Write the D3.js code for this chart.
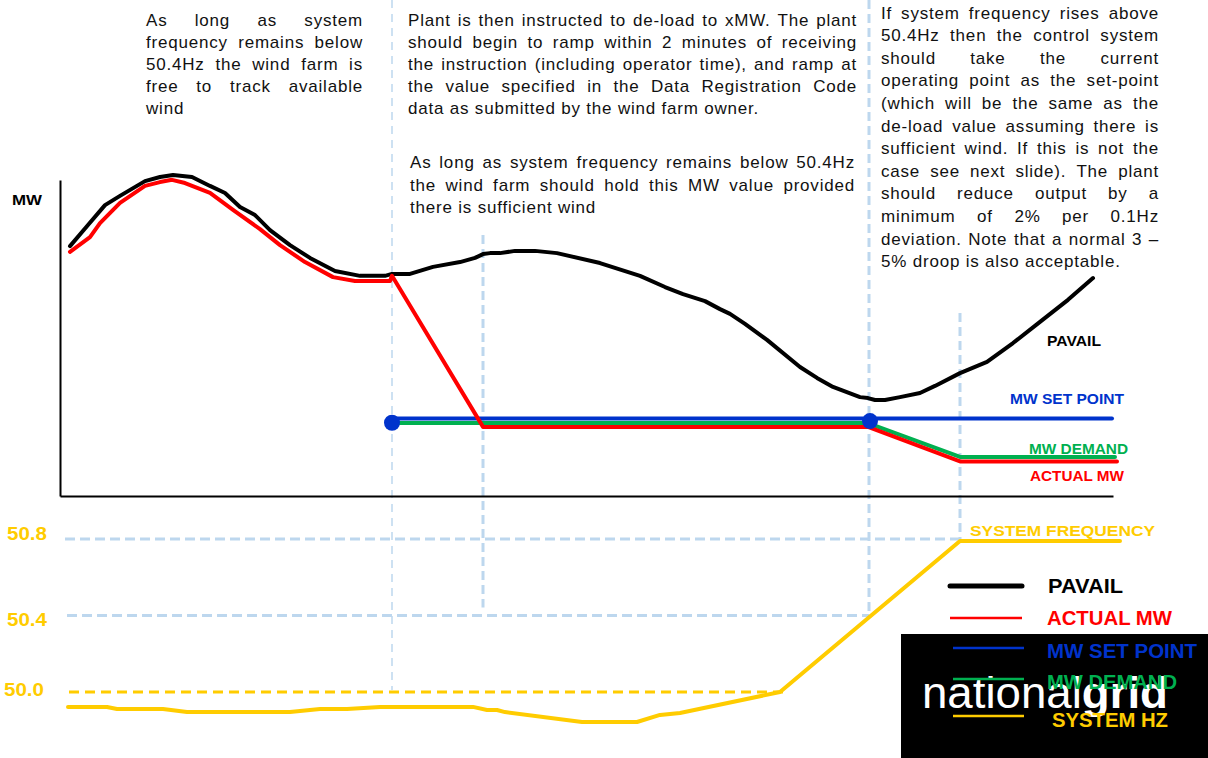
<!DOCTYPE html>
<html><head><meta charset="utf-8">
<script src="https://cdn.jsdelivr.net/npm/d3@7"></script>
<style>
html,body{margin:0;padding:0;background:#fff;}
svg{display:block;font-family:"Liberation Sans",Arial,sans-serif;}
</style></head><body>
<svg id="chart" width="1208" height="758"></svg>
<script>
// ---------- DATA ----------
// time axis (arbitrary minutes), MW axis (arbitrary MW)
const pavailT  = [1.0,2.8,4.5,6.0,8.5,10.0,11.3,13.2,15.0,16.5,18.0,19.5,21.0,23.0,25.0,27.5,30.0,32.5,33.2,35.0,37.3,40.0,41.5,42.3,43.0,44.0,45.5,47.5,49.7,54.0,58.0,60.5,62.3,64.5,66.0,67.0,68.5,70.7,74.0,75.7,77.3,80.0,80.8,81.5,82.5,84.0,86.0,87.5,90.0,92.7,95.3,98.0,100.8,103.3];
const pavailMW = [78.1,84.7,90.9,93.8,98.4,99.7,100.3,99.7,96.9,94.7,90.3,87.8,83.1,78.4,74.4,70.3,68.8,68.8,69.4,69.4,71.6,73.1,74.4,75.6,75.9,75.9,76.6,76.6,75.9,72.8,68.8,65.3,63.1,60.9,58.4,56.9,53.8,48.8,40.3,36.9,34.1,30.9,30.6,30.0,30.0,30.9,32.2,34.4,38.4,41.9,47.8,54.4,61.3,68.1];

const actualT  = [1.0,3.0,4.0,6.0,8.5,10.0,11.2,12.5,15.0,17.3,20.0,22.0,24.5,27.3,29.5,33.0,33.2,42.3,80.8,90.0,105.7];
const actualMW = [76.3,80.9,85.3,91.6,96.9,98.1,98.8,97.8,94.7,89.4,83.4,78.4,73.1,68.4,67.2,67.2,68.8,21.6,21.6,10.8,10.8];

const demandT  = [33.2,80.8,90.0,105.5];
const demandMW = [22.8,22.8,12.2,12.2];

const setpointT  = [33.2,105.2];
const setpointMW = [24.2,24.2];

const markerT  = [33.2,81.0];
const markerMW = [22.9,23.4];

const freqT  = [0.8,4.7,5.7,10.3,12.7,23.0,26.0,28.7,32.0,41.3,42.7,43.7,44.5,52.2,57.7,60.0,62.0,72.0,90.0,106.0];
const freqHz = [49.922,49.922,49.911,49.911,49.895,49.895,49.911,49.911,49.922,49.922,49.906,49.906,49.895,49.843,49.843,49.880,49.890,50.0,50.79,50.79];

const freqTicks = [50.0,50.4,50.8];
const eventT = [33.2,42.3,80.9,90.0];

const seriesLabels = ["PAVAIL","MW SET POINT","MW DEMAND","ACTUAL MW","SYSTEM FREQUENCY"];
const legendLabels = ["PAVAIL","ACTUAL MW","MW SET POINT","MW DEMAND","SYSTEM HZ"];

const textLeft = ["As long as system","frequency remains below","50.4Hz the wind farm is","free to track available","wind"];
const textMid1 = ["Plant is then instructed to de-load to xMW. The plant","should begin to ramp within 2 minutes of receiving","the instruction (including operator time), and ramp at","the value specified in the Data Registration Code","data as submitted by the wind farm owner."];
const textMid2 = ["As long as system frequency remains below 50.4Hz","the wind farm should hold this MW value provided","there is sufficient wind"];
const textRight = ["If system frequency rises above","50.4Hz then the control system","should take the current","operating point as the set-point","(which will be the same as the","de-load value assuming there is","sufficient wind. If this is not the","case see next slide). The plant","should reduce output by a","minimum of 2% per 0.1Hz","deviation. Note that a normal 3 \u2013","5% droop is also acceptable."];

// ---------- STYLE ----------
const C = {black:"#000000", red:"#ff0000", blue:"#0033cc", green:"#00b050", yellow:"#ffcc00", guide:"#bdd7ee"};

const svg = d3.select("#chart");
const x = d3.scaleLinear().domain([0,105.3]).range([60,1113]);
const y = d3.scaleLinear().domain([0,98.75]).range([496,180]);
const f = d3.scaleLinear().domain([50,50.8]).range([692,539]);

const zip = (a,b)=>a.map((v,i)=>[v,b[i]]);
const lineMW = d3.line().x(d=>x(d[0])).y(d=>y(d[1]));
const lineF  = d3.line().x(d=>x(d[0])).y(d=>f(d[1]));

// ---------- GUIDES ----------
const g = svg.append("g");
const vTop = [0,235,0,313];
const vBot = [f(50.0)-2, f(50.4)-8, f(50.4), f(50.8)+3];
eventT.forEach((t,i)=>{
  g.append("line").attr("x1",x(t)).attr("x2",x(t)).attr("y1",vTop[i]).attr("y2",vBot[i])
   .attr("stroke",C.guide).attr("stroke-width", i===0?1.5:3).attr("stroke-dasharray", i===0?"8,6":"9,5");
});
g.append("line").attr("x1",65).attr("x2",x(eventT[3])).attr("y1",f(50.8)).attr("y2",f(50.8))
 .attr("stroke",C.guide).attr("stroke-width",3).attr("stroke-dasharray","10,5");
g.append("line").attr("x1",67).attr("x2",x(eventT[2])).attr("y1",f(50.4)).attr("y2",f(50.4))
 .attr("stroke",C.guide).attr("stroke-width",3).attr("stroke-dasharray","10,5");
g.append("line").attr("x1",69).attr("x2",x(freqT[17])+5).attr("y1",f(50.0)).attr("y2",f(50.0))
 .attr("stroke",C.yellow).attr("stroke-width",3).attr("stroke-dasharray","10,6");

// ---------- AXES ----------
const ax = svg.append("g").attr("transform",`translate(0,${y(0)})`)
  .call(d3.axisBottom(x).tickValues([]).tickSizeOuter(0));
ax.select(".domain").attr("stroke","#000").attr("stroke-width",2);
const ay = svg.append("g").attr("transform",`translate(${x(0)},0)`)
  .call(d3.axisLeft(y).tickValues([]).tickSizeOuter(0));
ay.select(".domain").attr("stroke","#000").attr("stroke-width",2);
svg.append("text").attr("x",12).attr("y",205).text("MW")
  .attr("font-weight","bold").attr("font-size",15).attr("textLength",30).attr("lengthAdjust","spacingAndGlyphs");

svg.selectAll(".ftick").data(freqTicks).join("text").attr("class","ftick")
  .attr("x",d=>d===50.0?4:7).attr("y",d=>f(d)+ (d===50.8?1:d===50.4?10:4))
  .text(d3.format(".1f")).attr("fill",C.yellow).attr("font-weight","bold").attr("font-size",19)
  .attr("textLength",40).attr("lengthAdjust","spacingAndGlyphs");

// ---------- SERIES ----------
const common = p=>p.attr("fill","none").attr("stroke-linejoin","round").attr("stroke-linecap","round");
svg.append("path").datum(zip(freqT,freqHz)).attr("d",lineF).call(common).attr("stroke",C.yellow).attr("stroke-width",4);
svg.append("path").datum(zip(pavailT,pavailMW)).attr("d",lineMW).call(common).attr("stroke",C.black).attr("stroke-width",4);
svg.append("path").datum(zip(setpointT,setpointMW)).attr("d",lineMW).call(common).attr("stroke",C.blue).attr("stroke-width",4);
svg.append("path").datum(zip(demandT,demandMW)).attr("d",lineMW).call(common).attr("stroke",C.green).attr("stroke-width",4);
svg.append("path").datum(zip(actualT,actualMW)).attr("d",lineMW).call(common).attr("stroke",C.red).attr("stroke-width",4);
svg.selectAll(".mk").data(zip(markerT,markerMW)).join("circle").attr("class","mk")
  .attr("cx",d=>x(d[0])).attr("cy",d=>y(d[1])).attr("r",8).attr("fill",C.blue);

const sl = [
  {t:seriesLabels[0], x1:1047, x2:1101, yc:y(pavailMW[53])+62, c:C.black},
  {t:seriesLabels[1], x1:1010, x2:1124, yc:y(setpointMW[0])-20, c:C.blue},
  {t:seriesLabels[2], x1:1029, x2:1128, yc:y(demandMW[3])-8, c:C.green},
  {t:seriesLabels[3], x1:1030, x2:1124, yc:y(actualMW[20])+14, c:C.red},
  {t:seriesLabels[4], x1:970, x2:1155, yc:f(50.79)-10, c:C.yellow}
];
sl.forEach(d=>{
  svg.append("text").attr("x",d.x1).attr("y",d.yc+5.5).text(d.t).attr("fill",d.c)
    .attr("font-weight","bold").attr("font-size",15)
    .attr("textLength",d.x2-d.x1).attr("lengthAdjust","spacingAndGlyphs");
});

// ---------- LEGEND / LOGO ----------
svg.append("rect").attr("x",901).attr("y",634).attr("width",307).attr("height",124).attr("fill","#000");
const logo = svg.append("text").attr("x",922).attr("y",708).attr("fill","#fff").attr("font-size",45)
  .attr("textLength",246).attr("lengthAdjust","spacingAndGlyphs");
logo.append("tspan").text("national");
logo.append("tspan").text("grid").attr("font-weight","bold");

const legColors = [C.black,C.red,C.blue,C.green,C.yellow];
const legY = [586,618,648,679,716];
const legTY = [585,617,650,681,719];
const legX1 = [1048,1047,1047,1047,1052];
const legX2 = [1123,1172,1197,1177,1168];
const legW = [5,2.5,2.5,2.5,2.5];
legendLabels.forEach((lab,i)=>{
  svg.append("line").attr("x1",i<2?950:953).attr("x2",i<2?1022:1024)
    .attr("y1",legY[i]).attr("y2",legY[i]).attr("stroke",legColors[i]).attr("stroke-width",legW[i])
    .attr("stroke-linecap",i===0?"round":"butt");
  svg.append("text").attr("x",legX1[i]).attr("y",legTY[i]+7.5).text(lab).attr("fill",legColors[i])
    .attr("font-weight","bold").attr("font-size",20)
    .attr("textLength",legX2[i]-legX1[i]).attr("lengthAdjust","spacingAndGlyphs");
});

// ---------- TEXT BLOCKS ----------
function block(lines, x0, x1, y0, lh){
  lines.forEach((line,i)=>{
    const yy = y0 + i*lh;
    const words = line.split(" ");
    const last = i===lines.length-1;
    const grp = svg.append("g");
    const ts = words.map(w=>grp.append("text").attr("y",yy).attr("font-size",17).attr("letter-spacing",0.8).attr("fill","#111").text(w));
    const ws = ts.map(t=>t.node().getComputedTextLength());
    const spaceW = 5.5;
    const total = d3.sum(ws);
    const gap = last || words.length<2 ? spaceW : (x1-x0-total)/(words.length-1);
    let cx = x0;
    ts.forEach((t,j)=>{ t.attr("x",cx); cx += ws[j]+gap; });
  });
}
block(textLeft,146,363,25.5,22.2);
block(textMid1,408,857,25.5,22);
block(textMid2,410,855,168,22.5);
block(textRight,881,1159,18.5,22.6);
</script>
</body></html>
